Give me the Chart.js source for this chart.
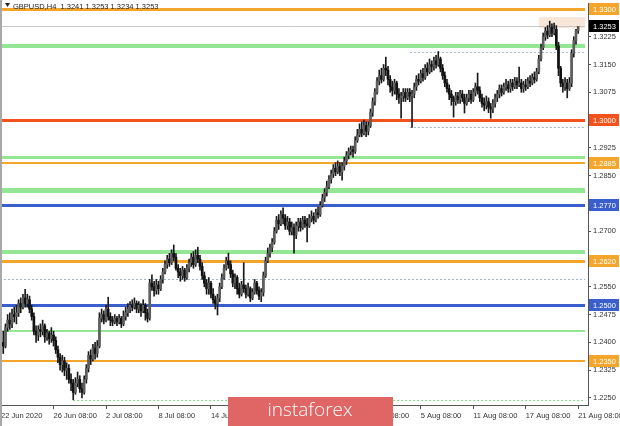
<!DOCTYPE html>
<html>
<head>
<meta charset="utf-8">
<script src="https://cdn.jsdelivr.net/npm/chart.js@4.4.0/dist/chart.umd.min.js"></script>
<style>
  html, body { margin: 0; padding: 0; background: #fff; }
</style>
</head>
<body>
<canvas id="chart" width="620" height="426"></canvas>
<script>
// GBPUSD H4 candles, 22 Jun 08:00 .. 21 Aug 08:00 2020, prices in 1/10000
const firstOpen = 12370;
const closes = [
  12400,12390,12440,12460,12450,12475,12470,12480,12505,12495,12520,12505,12515,12490,12470,12430,12420,
  12435,12430,12445,12415,12425,12410,12420,12405,
  12380,12360,12340,12350,12325,12330,12300,
  12290,12265,12290,12300,12275,12265,12300,
  12330,12365,12355,12385,12370,12390,
  12465,12475,12460,12490,12470,12460,12455,12465,12455,12465,12450,12470,12480,
  12490,12500,12495,12505,12490,12500,12485,12500,12480,12465,
  12560,12550,12540,12555,12545,12570,12590,12610,12625,12615,12640,12630,12600,12590,12580,12595,12575,12600,12615,12630,
  12610,12635,12625,12605,12580,12560,12545,12560,12530,12515,12505,12520,12550,12575,12600,12620,12610,12585,12560,12575,12545,12530,12555,12545,12530,12545,12520,12535,12560,12540,
  12525,12535,12580,12620,12640,12655,12670,12700,12730,12720,12745,12735,12715,12725,12700,12710,12690,12715,12725,12710,12730,12720,12715,12735,12740,12730,12750,12745,12770,12790,
  12805,12820,12840,12855,12870,12860,12875,12860,12875,12890,12905,12915,12920,12915,12945,12960,12975,12965,12985,12970,12985,13020,13050,13075,13105,13120,13110,13140,13135,13110,
  13090,13080,13100,13070,13060,13065,13075,13060,13075,13065,13070,13090,13110,13105,13125,13115,13140,13130,13150,13145,13160,13150,13165,13140,13120,13100,13085,13070,13060,13050,
  13065,13055,13070,13060,13045,13060,13070,13055,13075,13090,13080,13060,13045,13040,13050,13035,13030,13045,13060,13070,13085,13075,13090,13095,13085,13100,13090,13105,13095,13100,
  13085,13095,13090,13105,13100,13115,13110,13130,13165,13195,13225,13240,13230,13250,13235,13245,13200,13140,13100,13090,13100,13085,13100,13180,13215,13241,13253
];
const highs = [
  12420,12430,12450,12475,12480,12490,12495,12500,12515,12520,12530,12543,12530,12525,12500,12480,12445,
  12445,12450,12460,12450,12435,12430,12440,12430,
  12415,12390,12370,12365,12360,12345,12340,
  12315,12300,12305,12320,12310,12290,12310,
  12340,12375,12380,12395,12400,12405,
  12480,12490,12485,12500,12522,12480,12470,12475,12470,12475,12470,12485,12495,
  12505,12510,12515,12520,12512,12510,12505,12515,12505,12490,
  12570,12582,12565,12570,12565,12580,12600,12620,12635,12640,12650,12663,12640,12610,12600,12605,12600,12610,12625,12640,
  12645,12650,12657,12635,12615,12590,12570,12575,12565,12545,12525,12530,12560,12585,12610,12630,12641,12620,12595,12585,12580,12560,12565,12615,12555,12560,12550,12545,12570,12565,
  12550,12545,12590,12630,12655,12665,12680,12710,12740,12745,12755,12763,12745,12740,12735,12725,12720,12725,12735,12735,12740,12740,12735,12745,12755,12750,12760,12765,12780,12800,
  12815,12835,12850,12865,12880,12885,12890,12885,12885,12900,12915,12925,12930,12930,12955,12975,12990,12995,13000,12995,12995,13030,13060,13085,13115,13135,13140,13150,13170,13145,
  13120,13105,13110,13105,13085,13075,13085,13085,13085,13085,13080,13100,13120,13125,13135,13140,13150,13155,13165,13160,13170,13175,13185,13170,13150,13130,13110,13095,13080,13065,
  13075,13075,13080,13080,13070,13070,13080,13080,13085,13100,13127,13090,13070,13060,13065,13060,13045,13055,13070,13080,13095,13095,13100,13110,13105,13110,13110,13115,13115,13143,
  13110,13105,13110,13115,13120,13125,13130,13140,13175,13205,13235,13250,13255,13267,13260,13262,13255,13210,13145,13110,13115,13110,13115,13190,13225,13245,13253
];
const lows = [
  12355,12370,12385,12430,12435,12440,12455,12450,12470,12480,12490,12495,12495,12480,12460,12420,12400,
  12405,12415,12420,12400,12405,12395,12400,12390,
  12370,12345,12325,12320,12310,12300,12290,
  12270,12245,12260,12280,12265,12250,12260,
  12290,12320,12340,12350,12355,12360,
  12385,12455,12450,12455,12460,12445,12445,12450,12445,12450,12440,12445,12460,
  12470,12480,12485,12490,12480,12480,12470,12480,12460,12455,
  12460,12540,12525,12530,12530,12540,12560,12585,12600,12605,12610,12620,12595,12575,12565,12570,12565,12570,12590,12605,
  12600,12605,12615,12595,12570,12550,12530,12530,12520,12505,12490,12474,12510,12545,12570,12595,12600,12575,12550,12545,12530,12520,12525,12535,12520,12525,12510,12515,12530,12530,
  12515,12510,12525,12575,12615,12630,12645,12665,12695,12705,12715,12720,12705,12705,12690,12690,12641,12680,12700,12700,12705,12710,12671,12710,12725,12720,12725,12735,12740,12765,
  12780,12795,12815,12830,12845,12850,12855,12850,12838,12865,12880,12895,12905,12900,12910,12940,12955,12955,12960,12955,12960,12980,13010,13040,13070,13095,13100,13105,13120,13095,
  13075,13065,13070,13055,13045,13005,13050,13050,13055,13050,12980,13060,13080,13095,13100,13105,13110,13120,13125,13130,13135,13140,13145,13130,13110,13090,13075,13055,13040,13008,
  13040,13045,13045,13050,13019,13040,13050,13045,13050,13065,13070,13050,13035,13025,13030,13020,13005,13020,13035,13050,13060,13065,13070,13080,13075,13075,13080,13085,13085,13090,
  13075,13075,13080,13085,13090,13095,13100,13105,13125,13160,13190,13215,13220,13225,13225,13230,13190,13120,13090,13075,13080,13060,13080,13090,13170,13205,13234
];

// price axis ticks and tagged levels
const yTicks = [1.2250,1.2325,1.2400,1.2475,1.2550,1.2625,1.2700,1.2775,1.2850,1.2925,1.3000,1.3075,1.3150,1.3225];
const orangeLevels = [1.3300, 1.2885, 1.2620, 1.2350];
const redLevels = [1.3000];
const blueLevels = [1.2770, 1.2500];
const greenLevels = [1.3200, 1.2900, 1.2810, 1.2645, 1.2430];
const dottedLevels = [1.3185, 1.2981, 1.2570, 1.2245];
const peakZone = [1.3248, 1.3278];

// time axis
const xTickAt = ["22 Jun 08:00","26 Jun 08:00","2 Jul 08:00","8 Jul 08:00","14 Jul 08:00","20 Jul 08:00",
  "24 Jul 08:00","30 Jul 08:00","5 Aug 08:00","11 Aug 08:00","17 Aug 08:00","21 Aug 08:00"];
const xTickText = ["22 Jun 2020","26 Jun 08:00","2 Jul 08:00","8 Jul 08:00","14 Jul 08:00","20 Jul 08:00",
  "24 Jul 08:00","30 Jul 08:00","5 Aug 08:00","11 Aug 08:00","17 Aug 08:00","21 Aug 08:00"];

const months = ["Jan","Feb","Mar","Apr","May","Jun","Jul","Aug","Sep","Oct","Nov","Dec"];
const emptyBars = 4; // chart shift on the right
const labels = [];
let t = Date.UTC(2020, 5, 22, 8);
while (labels.length < closes.length + emptyBars) {
  const d = new Date(t);
  const wd = d.getUTCDay();
  if (wd !== 0 && wd !== 6) {
    labels.push(d.getUTCDate() + " " + months[d.getUTCMonth()] + " " + String(d.getUTCHours()).padStart(2, "0") + ":00");
  }
  t += 4 * 3600 * 1000;
}

const opens = closes.map((c, i) => i === 0 ? firstOpen : closes[i - 1]);
const wicks = lows.map((l, i) => [l / 1e4, highs[i] / 1e4]);
const bodies = opens.map((o, i) => [o / 1e4, closes[i] / 1e4]);
const bodyColors = opens.map((o, i) => closes[i] >= o ? "#5e5e5e" : "#111111");

const last = closes.length - 1;
const lastPrice = closes[last] / 1e4;
const font = "Liberation Sans";

function hline(chart, price, color, width, dash, fromIndex) {
  const { ctx, chartArea: a, scales: { x, y } } = chart;
  const py = Math.round(y.getPixelForValue(price)) + (width % 2 ? 0.5 : 0);
  const x0 = fromIndex != null ? x.getPixelForValue(fromIndex) : a.left;
  ctx.save();
  ctx.strokeStyle = color;
  ctx.lineWidth = width;
  ctx.setLineDash(dash || []);
  ctx.beginPath();
  ctx.moveTo(x0, py);
  ctx.lineTo(a.right - 3, py);
  ctx.stroke();
  ctx.restore();
}

function tag(chart, price, bg) {
  const { ctx, chartArea: a, scales: { y } } = chart;
  const py = Math.round(y.getPixelForValue(price));
  ctx.save();
  ctx.fillStyle = bg;
  ctx.fillRect(a.right + 1, py - 6, 30, 12);
  ctx.fillStyle = "#fff";
  ctx.font = "7.5px " + font;
  ctx.textBaseline = "middle";
  ctx.fillText(price.toFixed(4), a.right + 5, py + 0.5);
  ctx.restore();
}

const levelsPlugin = {
  id: "levels",
  beforeDatasetsDraw(chart) {
    const { ctx, chartArea: a, scales: { x, y } } = chart;
    // zone around the peak
    const zx = x.getPixelForValue(last - 18);
    const zt = y.getPixelForValue(peakZone[1]);
    const zb = y.getPixelForValue(peakZone[0]);
    ctx.save();
    ctx.fillStyle = "rgba(244,214,190,0.6)";
    ctx.fillRect(zx, zt, a.right - 3 - zx, zb - zt);
    ctx.restore();

    hline(chart, lastPrice, "#c8c8c8", 1);
    const gw = [4, 3, 5, 4, 2];
    greenLevels.forEach((p, i) => hline(chart, p, "#93e693", gw[i]));
    const ow = [3, 2, 3, 2];
    orangeLevels.forEach((p, i) => hline(chart, p, "#f4a52c", ow[i]));
    redLevels.forEach(p => hline(chart, p, "#f2531c", 3));
    blueLevels.forEach(p => hline(chart, p, "#3a5fcd", 3));
    const dStart = [187, 187, null, 33];
    const dColor = ["#9fb4c9", "#9fb4c9", "#9fb4c9", "#7fd67f"];
    dottedLevels.forEach((p, i) => hline(chart, p, dColor[i], 1, [2, 2], dStart[i]));
  },
  afterDraw(chart) {
    const { ctx } = chart;
    orangeLevels.forEach(p => tag(chart, p, "#f4a52c"));
    redLevels.forEach(p => tag(chart, p, "#f2531c"));
    blueLevels.forEach(p => tag(chart, p, "#3a5fcd"));
    tag(chart, lastPrice, "#000");

    ctx.save();
    // left frame strip
    ctx.fillStyle = "#a8a8a8";
    ctx.fillRect(0, 0, 2, 426);
    // header
    ctx.fillStyle = "#222";
    ctx.beginPath();
    ctx.moveTo(5, 3); ctx.lineTo(10, 3); ctx.lineTo(7.5, 7); ctx.closePath(); ctx.fill();
    ctx.font = "7.5px " + font;
    ctx.textBaseline = "alphabetic";
    const f = v => (v / 1e4).toFixed(4);
    ctx.fillText("GBPUSD,H4  " + f(opens[last]) + " " + f(highs[last]) + " " + f(lows[last]) + " " + f(closes[last]), 13, 9);
    // watermark
    ctx.fillStyle = "#e06666";
    ctx.fillRect(228, 397, 165, 29);
    ctx.fillStyle = "#fff";
    ctx.font = "300 19px 'Open Sans'";
    ctx.textAlign = "center";
    ctx.textBaseline = "middle";
    ctx.fillText("instaforex", 310, 411);
    ctx.restore();
  }
};

new Chart(document.getElementById("chart").getContext("2d"), {
  data: {
    labels: labels,
    datasets: [
      { type: "bar", data: wicks, backgroundColor: "#1a1a1a", barThickness: 1, grouped: false, order: 2 },
      { type: "bar", data: bodies, backgroundColor: bodyColors, barThickness: 2, minBarLength: 1, grouped: false, order: 1 }
    ]
  },
  options: {
    responsive: false,
    animation: false,
    events: [],
    layout: { padding: { top: 3, left: 0, right: 0, bottom: 0 } },
    plugins: { legend: { display: false }, tooltip: { enabled: false } },
    scales: {
      x: {
        type: "category",
        offset: true,
        grid: { drawOnChartArea: false, offset: false, tickLength: 4, color: "#555" },
        border: { color: "#555" },
        afterBuildTicks: s => { s.ticks = s.ticks.filter(tk => xTickAt.includes(labels[tk.value])); },
        afterFit: s => { s.height = 21; s.paddingLeft = 0; s.paddingRight = 0; },
        ticks: {
          autoSkip: false, maxRotation: 0, align: "start", padding: 2,
          color: "#333", font: { size: 7.5, family: font },
          callback: function (v) { return xTickText[xTickAt.indexOf(labels[v])]; }
        }
      },
      y: {
        type: "linear",
        position: "right",
        min: 1.2231,
        max: 1.3316,
        grid: { drawOnChartArea: false, tickLength: 3, color: "#555" },
        border: { color: "#555" },
        afterBuildTicks: s => { s.ticks = yTicks.map(v => ({ value: v })); },
        afterFit: s => { s.width = 32; s.paddingTop = 0; s.paddingBottom = 0; },
        ticks: { padding: 2, color: "#333", font: { size: 7.5, family: font }, callback: v => v.toFixed(4) }
      }
    }
  },
  plugins: [levelsPlugin]
});
</script>
</body>
</html>
